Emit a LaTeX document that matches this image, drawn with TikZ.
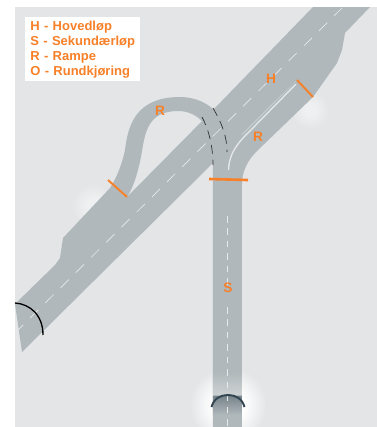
\documentclass[tikz,border=0pt]{standalone}
\usepackage{fontspec}
\usepackage{xcolor}
\setmainfont{Liberation Sans}
\usetikzlibrary{positioning,calc}
\definecolor{BackGray}{RGB}{227,229,231}
\definecolor{RoadGray}{RGB}{176,184,187}
\definecolor{SignOrange}{RGB}{247,128,40}
\definecolor{PortalSlate}{RGB}{52,69,82}
\pgfdeclareradialshading{strongspot}{\pgfpoint{0bp}{0bp}}{color(0bp)=(white); color(10bp)=(white); color(24bp)=(BackGray); color(50bp)=(BackGray)}
\pgfdeclareradialshading{faintspot}{\pgfpoint{0bp}{0bp}}{color(0bp)=(white!45!BackGray); color(8bp)=(white!40!BackGray); color(24bp)=(BackGray); color(50bp)=(BackGray)}
\tikzset{
  road/.style={fill=RoadGray, draw=none},
  midline/.style={draw=white!70!RoadGray, line width=0.38pt},
  tick/.style={draw=SignOrange, line width=1.1pt},
  hidden/.style={draw=black!80, line width=0.4pt, dash pattern=on 5pt off 3.4pt},
  letter/.style={text=SignOrange, font=\bfseries\fontsize{7.8}{8}\selectfont, inner sep=0pt}
}
\begin{document}
\begin{tikzpicture}[x=0.02cm, y=-0.02cm]
\useasboundingbox (0,0) rectangle (377,427);
\fill[white] (0,0) rectangle (377,427);
\fill[BackGray] (15,7) rectangle (377,427);
% soft spots at the ramp ends
\begin{scope}
\clip (15,7) rectangle (377,427);
\shade[shading=strongspot] (228,405) circle (40);
\shade[shading=faintspot] (93,205) circle (22);
\shade[shading=faintspot] (310,110) circle (20);
% main road
\path[road] (15,304) -- (55,265) -- (60,258) -- (63,238) -- (110,188) -- (127,197) -- (213,110)
  -- (313,7) -- (370,7) -- (345,33) -- (342,50) -- (337,63) -- (313,97)
  -- (297,80) -- (268,108) -- (228,148) -- (213,163) -- (22,352) -- cycle;
% left ramp
\path[road] (110,188) .. controls (118,176) and (123,160) .. (125,150)
  .. controls (128,125) and (136,97) .. (180,97)
  .. controls (195,97) and (207,103) .. (214,110) -- (205,125)
  .. controls (198,115) and (188,111) .. (178,111)
  .. controls (150,111) and (146,130) .. (143,145)
  .. controls (140,165) and (135,185) .. (127,197) -- cycle;
% right ramp and side road
\path[road] (297,80) -- (313,97) -- (257,151)
  .. controls (247,161) and (242,172) .. (242,184) -- (242,427) -- (213,427)
  -- (213,150) -- (243,134) -- cycle;
\end{scope}
\draw[BackGray, line width=0.8pt] (228.5,170) .. controls (229,157) and (234,148) .. (243,138) -- (296,84);
\fill[top color=RoadGray, bottom color=white!35!RoadGray] (213,372) rectangle (242,394);
\fill[top color=PortalSlate!45!RoadGray, bottom color=RoadGray] (213,396) rectangle (242,415);
% centre lines
\draw[midline, dash pattern=on 6.6pt off 5.6pt] (15,333) -- (342,8);
\draw[midline, dash pattern=on 3.7pt off 3.4pt] (227.5,216) -- (227.5,286);
\draw[midline, dash pattern=on 3.7pt off 3.4pt] (227.5,307) -- (227.5,427);
% tunnel portals
\draw[PortalSlate, line width=1.1pt] (211.5,407) .. controls (214,398) and (221,395) .. (228,395)
  .. controls (235,395) and (242,398) .. (244.5,407);
\draw[black, line width=0.75pt] (15,303) .. controls (30,304) and (43,315) .. (43,335);
% hidden edges over the main road
\draw[hidden] (202,117) .. controls (208,128) and (213,145) .. (213,165);
\draw[hidden] (213,108) .. controls (221,122) and (227,135) .. (227,152);
% orange ticks
\draw[tick] (108,180) -- (127,197);
\draw[tick] (297,80) -- (313,97);
\draw[tick, line width=1.5pt] (209,179) -- (248,180);
% labels
\node[letter] (labelH) at (271,79) {H};
\node[letter] (labelRa) at (160,111) {R};
\node[letter] (labelRb) at (258,137) {R};
\node[letter] (labelS) at (228,288) {S};
\node[fill=white, text=SignOrange, align=left, anchor=north west, inner ysep=0pt, inner xsep=5*0.02cm,
      minimum height=64*0.02cm, text width=105*0.02cm,
      font=\bfseries\fontsize{7.4}{8.5}\selectfont] (legend) at (25,17)
  {H - Hovedløp\\S - Sekundærløp\\R - Rampe\\O - Rundkjøring};
\end{tikzpicture}
\end{document}
